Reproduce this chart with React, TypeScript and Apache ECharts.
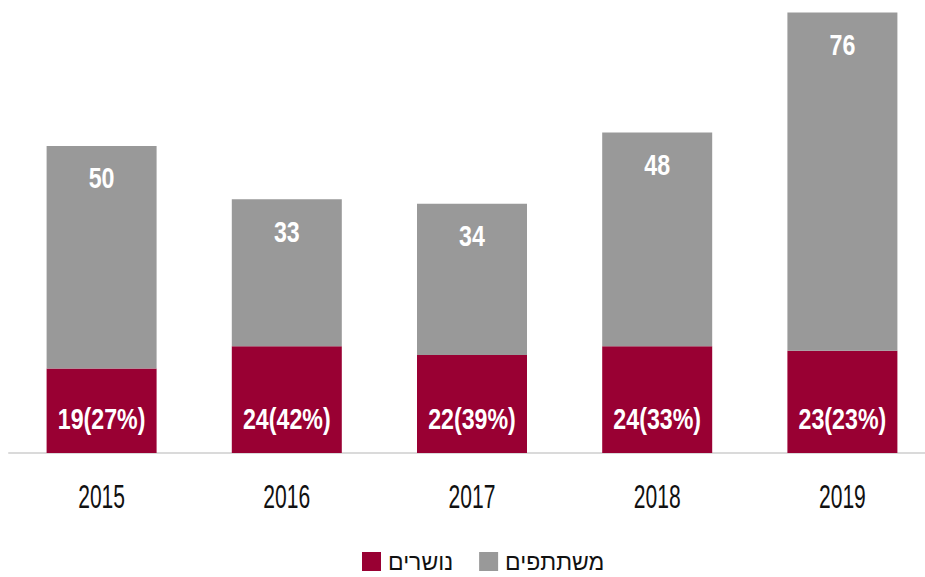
import React, { useEffect, useRef } from "react";
import * as echarts from "echarts";

const years = ["2015", "2016", "2017", "2018", "2019"];
const dropouts = [19, 24, 22, 24, 23];
const dropoutPct = ["27%", "42%", "39%", "33%", "23%"];
const participants = [50, 33, 34, 48, 76];
const seriesNames = ["נושרים", "משתתפים"];

const RED = "#990033";
const GRAY = "#999999";
const FONT = "'Liberation Sans', Arial, sans-serif";

// horizontally condense text (the reference uses a condensed face)
function condense(root: HTMLElement) {
  const texts = root.querySelectorAll("text");
  texts.forEach((t) => {
    const content = (t.textContent || "").trim();
    let s = 1;
    if (/^\d{4}$/.test(content)) s = 0.62;
    else if (/\d/.test(content)) s = 0.8;
    if (s === 1) return;
    let base = t.getAttribute("data-orig-transform");
    if (base === null) {
      base = t.getAttribute("transform") || "";
      t.setAttribute("data-orig-transform", base);
    }
    const x = parseFloat(t.getAttribute("x") || "0") || 0;
    const y = parseFloat(t.getAttribute("y") || "0") || 0;
    t.setAttribute(
      "transform",
      `${base} translate(${x} ${y}) scale(${s} 1) translate(${-x} ${-y})`.trim()
    );
  });
}

export default function App() {
  const ref = useRef<HTMLDivElement>(null);
  useEffect(() => {
    if (!ref.current) return;
    const el = ref.current;
    const chart = echarts.init(el, undefined, { renderer: "svg" });
    chart.setOption({
      animation: false,
      backgroundColor: "#ffffff",
      grid: { left: 9, top: 8, right: -10, height: 445, outerBoundsMode: "none", containLabel: false },
      legend: {
        data: seriesNames,
        top: 545,
        left: 357,
        padding: 5,
        itemWidth: 19,
        itemHeight: 19,
        itemGap: 26,
        icon: "rect",
        textStyle: { fontFamily: FONT, fontSize: 23, color: "#111", padding: [0, 0, 0, 2] },
      },
      xAxis: {
        type: "category",
        data: years,
        axisLine: { lineStyle: { color: "#dadada", width: 2 } },
        axisTick: { show: false },
        axisLabel: { fontFamily: FONT, fontSize: 34, color: "#111", margin: 26 },
      },
      yAxis: {
        type: "value",
        min: 0,
        max: 100,
        show: false,
        splitLine: { show: false },
      },
      series: [
        {
          name: seriesNames[0],
          type: "bar",
          stack: "total",
          barWidth: 110,
          data: dropouts,
          itemStyle: { color: RED },
          label: {
            show: true,
            position: "insideBottom",
            distance: 19,
            color: "#fff",
            fontFamily: FONT,
            fontWeight: "bold",
            fontSize: 29,
            formatter: (p: any) => `${dropouts[p.dataIndex]}(${dropoutPct[p.dataIndex]})`,
          },
        },
        {
          name: seriesNames[1],
          type: "bar",
          stack: "total",
          barWidth: 110,
          data: participants,
          itemStyle: { color: GRAY },
          label: {
            show: true,
            position: "insideTop",
            distance: 18,
            color: "#fff",
            fontFamily: FONT,
            fontWeight: "bold",
            fontSize: 29,
          },
        },
      ],
    });
    condense(el);
    const onFinished = () => condense(el);
    chart.on("finished", onFinished);
    return () => {
      chart.off("finished", onFinished);
      chart.dispose();
    };
  }, []);
  return (
    <div
      ref={ref}
      style={{ position: "fixed", left: 0, top: 0, width: 925, height: 577, background: "#fff" }}
    />
  );
}
